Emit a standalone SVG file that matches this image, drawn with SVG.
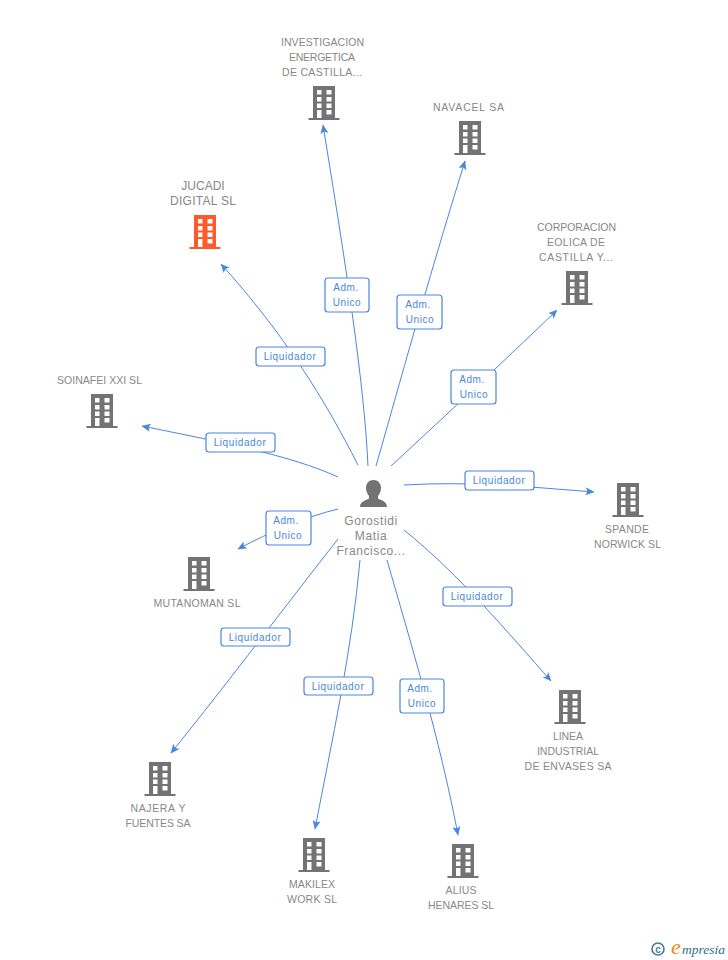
<svg xmlns="http://www.w3.org/2000/svg" width="728" height="960" viewBox="0 0 728 960">
<style>
text{font-family:"Liberation Sans",Arial,sans-serif}
.n{font-size:10.5px;fill:#888;text-anchor:middle}
.p{font-size:12px;fill:#888;text-anchor:middle;letter-spacing:.6px}
.l{font-size:10px;fill:#4a86e0;text-anchor:middle;letter-spacing:.6px}
.c{fill:none;stroke:#4a86e0;stroke-width:1}
.b{fill:#fff;stroke:#4a86e0;stroke-width:1.2}
</style>
<defs>
<marker id="a" markerWidth="10" markerHeight="8" refX="8.5" refY="4" orient="auto" markerUnits="userSpaceOnUse"><path d="M0 0L9 4L0 8L2 4Z" fill="#4a86e0"/></marker>
<path id="bd" fill-rule="evenodd" d="M-11 0H11V32H15.500V34H-15.500V32H-11ZM-7 4V8.500H-2.500V4ZM2.500 4V8.500H7.500V4ZM-7 11V15.500H-2.500V11ZM2.500 11V15.500H7.500V11ZM-7 17.500V22H-2.500V17.500ZM2.500 17.500V22H7.500V17.500ZM-7 24V32H-2.500V24ZM2.500 24V28.500H7.500V24Z"/>
</defs>
<g id="connectors">
<path class="c" marker-end="url(#a)" d="M368 466C364 380 345 260 323 125"/>
<path class="c" marker-end="url(#a)" d="M376 466C395 400 425 290 465 161"/>
<path class="c" marker-end="url(#a)" d="M391 466C430 430 500 365 557 310"/>
<path class="c" marker-end="url(#a)" d="M358 465C325 400 285 335 221 264"/>
<path class="c" marker-end="url(#a)" d="M338 477C290 455 220 442 142 426"/>
<path class="c" marker-end="url(#a)" d="M404 485C470 481 530 487 594 492"/>
<path class="c" marker-end="url(#a)" d="M338 509C305 517 270 532 238 549"/>
<path class="c" marker-end="url(#a)" d="M404 530C460 575 510 635 551 681"/>
<path class="c" marker-end="url(#a)" d="M338 539C290 600 230 680 171 753"/>
<path class="c" marker-end="url(#a)" d="M360 560C352 650 332 740 315 829"/>
<path class="c" marker-end="url(#a)" d="M387 560C410 640 440 740 458 835"/>
</g>
<g id="edge-labels">
<rect class="b" x="325" y="278" width="44" height="34" rx="3"/><text class="l" x="346" y="291">Adm.</text><text class="l" x="347" y="306">Unico</text>
<rect class="b" x="397" y="295" width="45" height="34" rx="3"/><text class="l" x="418" y="308">Adm.</text><text class="l" x="420" y="323">Unico</text>
<rect class="b" x="451" y="370" width="45" height="34" rx="3"/><text class="l" x="472" y="383">Adm.</text><text class="l" x="474" y="398">Unico</text>
<rect class="b" x="256" y="347" width="69" height="19" rx="3"/><text class="l" x="290" y="360">Liquidador</text>
<rect class="b" x="206" y="433" width="69" height="19" rx="3"/><text class="l" x="240" y="446">Liquidador</text>
<rect class="b" x="465" y="471" width="69" height="19" rx="3"/><text class="l" x="499" y="484">Liquidador</text>
<rect class="b" x="266" y="511" width="45" height="34" rx="3"/><text class="l" x="286" y="524">Adm.</text><text class="l" x="288" y="539">Unico</text>
<rect class="b" x="443" y="587" width="69" height="19" rx="3"/><text class="l" x="477" y="600">Liquidador</text>
<rect class="b" x="221" y="628" width="69" height="18" rx="3"/><text class="l" x="255" y="641">Liquidador</text>
<rect class="b" x="304" y="677" width="69" height="18" rx="3"/><text class="l" x="338" y="690">Liquidador</text>
<rect class="b" x="400" y="679" width="44" height="34" rx="3"/><text class="l" x="420" y="692">Adm.</text><text class="l" x="422" y="707">Unico</text>
</g>
<g id="person">
<path fill="#737373" d="M373.500 480C378 480 381 483.500 381 488C381 491.500 379.500 494 378 496V498.500C381 500.500 387 501 387 507H360C360 501 366 500.500 369 498.500V496C367.500 494 366 491.500 366 488C366 483.500 369 480 373.500 480Z"/>
<text class="p" x="371" y="525">Gorostidi</text><text class="p" x="371" y="540">Matia</text><text class="p" x="371" y="555">Francisco...</text>
</g>
<g id="n1" fill="#737373"><use href="#bd" x="324" y="86"/><text class="n" x="322.500" y="46" textLength="83">INVESTIGACION</text><text class="n" x="322" y="61" textLength="66">ENERGETICA</text><text class="n" x="322" y="76" textLength="80">DE CASTILLA...</text></g>
<g id="n2" fill="#737373"><use href="#bd" x="470" y="121"/><text class="n" x="468.500" y="111" textLength="71">NAVACEL SA</text></g>
<g id="n3" fill="#737373"><use href="#bd" x="577" y="271"/><text class="n" x="576.500" y="231" textLength="79">CORPORACION</text><text class="n" x="576" y="246" textLength="58">EOLICA DE</text><text class="n" x="576" y="261" textLength="74">CASTILLA Y...</text></g>
<g id="n4" fill="#ff5a2c"><use href="#bd" x="205" y="215"/><text class="n" style="font-size:12px" x="203" y="190">JUCADI</text><text class="n" style="font-size:12px" x="203" y="205" textLength="66">DIGITAL SL</text></g>
<g id="n5" fill="#737373"><use href="#bd" x="102" y="394"/><text class="n" x="99.500" y="384" textLength="85">SOINAFEI XXI SL</text></g>
<g id="n6" fill="#737373"><use href="#bd" x="628" y="483"/><text class="n" x="627" y="533" textLength="44">SPANDE</text><text class="n" x="627.500" y="548" textLength="67">NORWICK SL</text></g>
<g id="n7" fill="#737373"><use href="#bd" x="199" y="557"/><text class="n" x="197" y="607" textLength="87">MUTANOMAN SL</text></g>
<g id="n8" fill="#737373"><use href="#bd" x="570" y="690"/><text class="n" x="568" y="740" textLength="30">LINEA</text><text class="n" x="568" y="755" textLength="62">INDUSTRIAL</text><text class="n" x="568" y="770" textLength="87">DE ENVASES SA</text></g>
<g id="n9" fill="#737373"><use href="#bd" x="160" y="762"/><text class="n" x="158" y="812" textLength="55">NAJERA Y</text><text class="n" x="158" y="827" textLength="65">FUENTES SA</text></g>
<g id="n10" fill="#737373"><use href="#bd" x="314" y="838"/><text class="n" x="312" y="888" textLength="46">MAKILEX</text><text class="n" x="312" y="903" textLength="50">WORK SL</text></g>
<g id="n11" fill="#737373"><use href="#bd" x="463" y="844"/><text class="n" x="461" y="894" textLength="31">ALIUS</text><text class="n" x="461" y="909" textLength="66">HENARES SL</text></g>
<g id="logo">
<circle cx="658" cy="949" r="6" fill="none" stroke="#3f7f93" stroke-width="1.600"/>
<text x="658" y="952.500" font-size="10" font-weight="bold" text-anchor="middle" fill="#3f7f93">c</text>
<text x="671" y="954" font-size="22" font-style="italic" style="font-family:'Liberation Serif',serif" fill="#f08a1d">e</text>
<text x="682" y="954" font-size="13" textLength="43" lengthAdjust="spacingAndGlyphs" font-style="italic" style="font-family:'Liberation Serif',serif" fill="#2f6f88">mpresia</text>
</g>
</svg>
